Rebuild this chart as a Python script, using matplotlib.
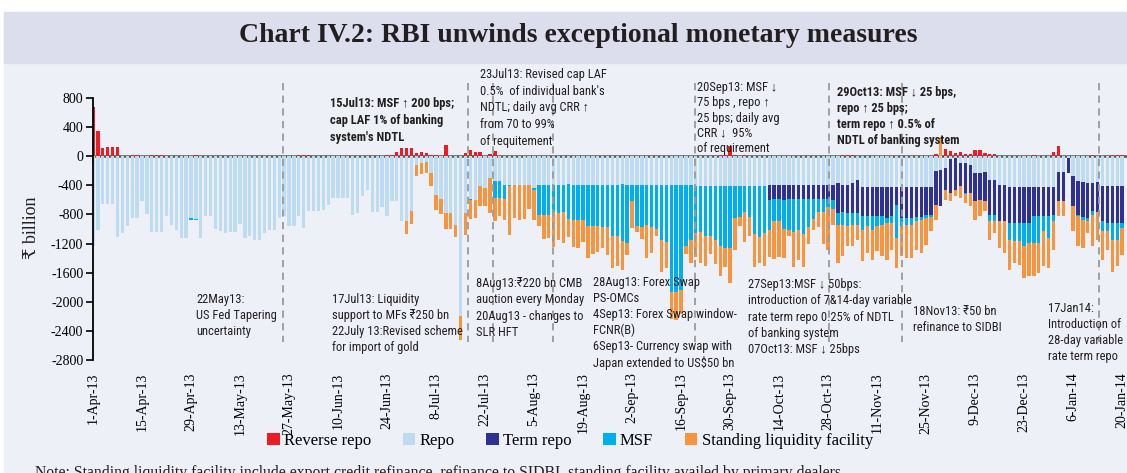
import numpy as np
import matplotlib
matplotlib.use('Agg')
import matplotlib.pyplot as plt
from matplotlib.patches import Rectangle
from matplotlib import font_manager

# Daily LAF operations (Rs billion), one entry per working day from 1-Apr-13
tick_labels = ['1-Apr-13', '15-Apr-13', '29-Apr-13', '13-May-13', '27-May-13', '10-Jun-13',
               '24-Jun-13', '8-Jul-13', '22-Jul-13', '5-Aug-13', '19-Aug-13', '2-Sep-13',
               '16-Sep-13', '30-Sep-13', '14-Oct-13', '28-Oct-13', '11-Nov-13', '25-Nov-13',
               '9-Dec-13', '23-Dec-13', '6-Jan-14', '20-Jan-14']

reverse_repo = [680, 344, 115, 128, 128, 128, 0, 0, 20, 20,
                0, 0, 10, 10, 10, 0, 0, 0, 0, 0,
                0, 10, 0, 0, 0, 0, 0, 0, 0, 0,
                0, 0, 0, 5, 0, 0, 0, 0, 0, 0,
                0, 0, 20, 20, 20, 0, 0, 0, 0, 0,
                0, 0, 0, 0, 0, 0, 0, 0, 0, 0,
                20, 20, 55, 110, 110, 110, 45, 55, 40, 20,
                10, 0, 150, 0, 0, 0, 45, 85, 55, 55,
                0, 35, 70, 0, 0, 0, 0, 0, 0, 0,
                0, 0, 0, 0, 0, 0, 0, 0, 0, 0,
                0, 0, 0, 0, 0, 0, 0, 0, 0, 0,
                0, 0, 0, 0, 0, 0, 0, 0, 0, 0,
                0, 0, 0, 0, 0, 0, 0, 0, 10, 10,
                140, 10, 0, 10, 0, 0, 0, 0, 0, 0,
                0, 0, 0, 0, 0, 0, 0, 0, 0, 0,
                0, 0, 0, 15, 15, 15, 0, 0, 0, 0,
                0, 0, 0, 0, 0, 0, 0, 0, 0, 0,
                0, 0, 35, 0, 100, 65, 40, 60, 30, 30,
                90, 90, 45, 35, 35, 0, 0, 0, 0, 0,
                0, 0, 20, 0, 0, 0, 57, 135, 0, 0,
                0, 0, 0, 0, 20, 0, 0, 0, 20, 20, 20]

repo = [1240, 1017, 660, 650, 650, 1110, 1060, 960, 850, 850,
        610, 790, 1045, 1045, 1045, 815, 950, 1010, 1130, 1130,
        850, 860, 1130, 815, 815, 1000, 1030, 1060, 1045, 1045,
        925, 1130, 1100, 1155, 1155, 1050, 1010, 1010, 845, 825,
        962, 962, 825, 985, 756, 756, 756, 733, 665, 573,
        573, 573, 573, 802, 780, 550, 458, 765, 770, 700,
        825, 620, 620, 890, 890, 756, 117, 100, 75, 230,
        530, 590, 780, 780, 940, 2200, 780, 590, 600, 415,
        440, 300, 346, 346, 390, 400, 400, 390, 400, 400,
        440, 392, 392, 392, 400, 392, 392, 385, 392, 392,
        392, 392, 392, 400, 392, 392, 392, 392, 385, 392,
        392, 392, 392, 392, 400, 392, 392, 392, 392, 392,
        392, 392, 392, 415, 415, 415, 415, 415, 415, 415,
        415, 415, 415, 415, 415, 415, 415, 415, 400, 400,
        400, 400, 400, 400, 400, 400, 400, 400, 400, 400,
        400, 400, 367, 390, 390, 367, 321, 422, 422, 422,
        422, 422, 422, 422, 422, 422, 422, 422, 422, 422,
        422, 422, 206, 183, 160, 37, 20, 94, 94, 117,
        231, 231, 210, 323, 323, 392, 392, 424, 424, 424,
        424, 424, 424, 424, 424, 424, 424, 218, 218, 30,
        275, 346, 360, 369, 369, 360, 415, 415, 415, 415, 415]

term_repo = [0] * 138 + [
             205, 185,
             185, 205, 185, 185, 185, 185, 185, 185, 185, 185,
             185, 205, 412, 380, 389, 412, 458, 394, 394, 403,
             403, 403, 426, 403, 243, 426, 426, 426, 412, 412,
             380, 380, 459, 507, 298, 467, 438, 321, 412, 389,
             390, 367, 411, 481, 481, 504, 504, 495, 495, 495,
             495, 495, 403, 403, 394, 394, 380, 403, 403, 200,
             415, 458, 478, 481, 389, 410, 481, 504, 504, 504, 504]

msf = [0, 0, 0, 0, 0, 0, 0, 0, 0, 0,
       0, 0, 0, 0, 0, 0, 0, 0, 0, 0,
       20, 20, 0, 0, 0, 0, 0, 0, 0, 0,
       0, 0, 0, 0, 0, 0, 0, 0, 0, 0,
       0, 0, 0, 0, 0, 0, 0, 0, 0, 0,
       0, 0, 0, 0, 0, 0, 0, 0, 0, 0,
       0, 0, 0, 0, 0, 0, 0, 0, 0, 0,
       0, 0, 0, 0, 0, 0, 0, 15, 0, 0,
       0, 0, 230, 230, 200, 15, 0, 0, 0, 0,
       20, 412, 412, 412, 370, 390, 375, 480, 480, 480,
       480, 560, 565, 560, 580, 580, 700, 710, 780, 800,
       230, 560, 575, 555, 575, 610, 756, 780, 1468, 1468,
       1444, 848, 755, 640, 630, 685, 685, 730, 820, 845,
       848, 440, 420, 350, 420, 650, 695, 640, 413, 300,
       300, 390, 435, 455, 435, 480, 390, 275, 180, 180,
       115, 120, 161, 170, 183, 161, 161, 192, 146, 183,
       137, 115, 69, 92, 458, 114, 92, 92, 60, 46,
       46, 32, 0, 0, 0, 0, 0, 0, 10, 0,
       0, 0, 0, 92, 92, 0, 0, 229, 252, 252,
       312, 275, 367, 367, 215, 307, 92, 0, 0, 0,
       0, 23, 35, 46, 46, 0, 137, 115, 229, 229, 69]

# standing liquidity facility; one day (-250) sits above the axis
slf = [0] * 64 + [
       185, 170, 150, 140, 155, 185,
       205, 200, 220, 220, 170, 320, 300, 260, 250, 275,
       250, 480, 320, 250, 280, 665, 450, 480, 460, 330,
       410, 160, 340, 320, 480, 370, 430, 250, 370, 390,
       300, 445, 380, 360, 290, 380, 445, 410, 400, 160,
       370, 90, 175, 445, 360, 100, 436, 367, 380, 390,
       330, 110, 320, 330, 420, 410, 250, 340, 410, 260,
       480, 430, 120, 420, 265, 460, 360, 460, 367, 525,
       500, 410, 80, 480, 410, 460, 230, 160, 205, 436,
       590, 220, 527, 435, 275, 297, 206, 436, 367, 413,
       344, 435, 504, 366, 412, 413, 458, 458, 389, 449,
       367, 197, 206, -250, 138, 115, 92, 160, 128, 184,
       252, 229, 137, 252, 160, 367, 435, 412, 298, 321,
       444, 458, 458, 406, 482, 413, 390, 206, 206, 0,
       343, 413, 390, 160, 436, 378, 390, 252, 436, 367, 366]

# policy events marked with dashed lines (position in working days)
event_days = [38.8, 76.5, 81.6, 93.9, 122.9, 150.2, 165.1, 205.3]

W, H = 1127, 473
SERIF = ['Liberation Serif', 'DejaVu Serif', 'DejaVu Sans']

# annotations use a narrow sans if one is installed, else a smaller regular one
installed = {f.name for f in font_manager.fontManager.ttflist}
narrow = [n for n in ['Liberation Sans Narrow', 'Arial Narrow', 'Roboto Condensed',
                      'Open Sans Condensed'] if n in installed]
if narrow:
    NARROW = [narrow[0], 'Liberation Sans', 'DejaVu Sans']
    note_size = 9
else:
    NARROW = ['Liberation Sans', 'DejaVu Sans']
    note_size = 7.9


def fx(px):
    return px / W


def fy(py):
    return 1 - py / H


fig = plt.figure(figsize=(W / 100, H / 100), dpi=100)
fig.patch.set_facecolor('white')
fig.patches.append(Rectangle((fx(4), 0), 1, fy(12), transform=fig.transFigure,
                             color='#EEF0F8', zorder=-10))
fig.patches.append(Rectangle((fx(4), fy(63)), 1, fy(12) - fy(63), transform=fig.transFigure,
                             color='#DCDEEE', zorder=-9))

ax = fig.add_axes([fx(93), fy(360), fx(1127) - fx(93), fy(98) - fy(360)])
ax.set_facecolor('none')

x = np.arange(len(repo))
series = [
    ('Reverse repo', np.array(reverse_repo), '#ED1C24'),
    ('Repo', -np.array(repo), '#BDDCF2'),
    ('Term repo', -np.array(term_repo), '#2E3192'),
    ('MSF', -np.array(msf), '#00AEEF'),
    ('Standing liquidity facility', -np.array(slf), '#F7943E'),
]
pos = np.zeros(len(x))
neg = np.zeros(len(x))
for label, vals, color in series:
    base = np.where(vals >= 0, pos, neg)
    ax.bar(x, vals, bottom=base, width=0.68, color=color, linewidth=0, label=label, zorder=2)
    pos = pos + np.clip(vals, 0, None)
    neg = neg + np.clip(vals, None, 0)

ax.set_xlim(0, 211)
ax.set_ylim(-2800, 800)

yt = np.arange(-2800, 801, 400)
ax.set_yticks(yt)
ax.set_yticklabels([str(v) for v in yt])
ax.tick_params(axis='y', direction='out', length=5, width=1.2, labelsize=10, pad=2)

ax.set_xticks(np.arange(0, 211, 10))
ax.set_xticklabels(tick_labels, rotation=90, va='top', ha='center')
ax.tick_params(axis='x', length=0, labelsize=10, pad=9)
for t in ax.get_xticklabels() + ax.get_yticklabels():
    t.set_fontfamily(SERIF)

for s in ['top', 'right', 'bottom']:
    ax.spines[s].set_visible(False)
ax.spines['left'].set_linewidth(1.3)
ax.spines['left'].set_zorder(4)

# zero line with the small date ticks on it
sec = ax.secondary_xaxis(2800 / 3600)
sec.set_xticks(np.arange(0, 211, 10))
sec.set_xticklabels([])
sec.tick_params(direction='in', length=3.5, width=1.2, color='#333333')
for s in sec.spines.values():
    s.set_color('#555555')
    s.set_linewidth(1.8)

for d in event_days:
    ax.plot([d, d], [1000, -2550], color='#9A9A9A', lw=1.3, ls=(0, (4, 3)),
            clip_on=False, zorder=5)

fig.text(fx(578), fy(36), 'Chart IV.2: RBI unwinds exceptional monetary measures',
         ha='center', va='center', fontsize=20, fontweight='bold', family=SERIF, color='#231F20')

fig.text(fx(32), fy(228), '\u20b9 billion', rotation=90, ha='center', va='center',
         fontsize=13, family=SERIF, color='#231F20')

# (left px, top px, text, weight, line pitch px)
notes = [
    (196, 293, '22May13:\nUS Fed Tapering\nuncertainty', 'normal', 15),
    (330, 97, "15Jul13: MSF \u2191 200 bps;\ncap LAF 1% of banking\nsystem's NDTL", 'bold', 16.5),
    (480, 68, "23Jul13: Revised cap LAF\n0.5%  of individual bank's\nNDTL; daily avg CRR \u2191\n"
              "from 70 to 99%\nof requitement", 'normal', 16),
    (697, 81, '20Sep13: MSF \u2193\n75 bps , repo \u2191\n25 bps; daily avg\nCRR \u2193  95%\n'
              'of requirement', 'normal', 14.3),
    (837, 86, '29Oct13: MSF \u2193 25 bps,\nrepo \u2191 25 bps;\nterm repo \u2191 0.5% of\n'
              'NDTL of banking system', 'bold', 15.3),
    (332, 293, '17Jul13: Liquidity\nsupport to MFs \u20b9250 bn\n22July 13:Revised scheme\n'
               'for import of gold', 'normal', 15),
    (476, 277, '8Aug13:\u20b9220 bn CMB\nauction every Monday\n20Aug13 - changes to\nSLR HFT',
     'normal', 15.5),
    (593, 276, '28Aug13: Forex Swap\nPS-OMCs\n4Sep13: Forex Swap window-\nFCNR(B)\n'
               '6Sep13- Currency swap with\nJapan extended to US$50 bn', 'normal', 15),
    (748, 278, '27Sep13:MSF \u2193 50bps:\nintroduction of 7&14-day variable\n'
               'rate term repo 0.25% of NDTL\nof banking system\n07Oct13: MSF \u2193 25bps',
     'normal', 15.5),
    (913, 305, '18Nov13: \u20b950 bn\nrefinance to SIDBI', 'normal', 15),
    (1048, 302, '17Jan14:\nIntroduction of\n28-day variable\nrate term repo', 'normal', 15),
]
for px, py, txt, weight, pitch in notes:
    fig.text(fx(px), fy(py), txt, ha='left', va='top', fontsize=note_size, fontweight=weight,
             family=NARROW, color='#231F20', linespacing=pitch / (note_size * 1.296), zorder=6)

handles, labels = ax.get_legend_handles_labels()
fig.legend(handles, labels, loc='center', bbox_to_anchor=(fx(570), fy(441)), ncol=5,
           frameon=False, prop={'family': SERIF, 'size': 12}, handlelength=0.75,
           handleheight=0.75, handletextpad=0.25, columnspacing=1.9)

fig.text(fx(35), fy(477), 'Note: Standing liquidity facility include export credit refinance, '
         'refinance to SIDBI, standing facility availed by primary dealers.',
         ha='left', va='baseline', fontsize=11.3, family=SERIF, color='#231F20')

fig.savefig('out.png', dpi=100)
